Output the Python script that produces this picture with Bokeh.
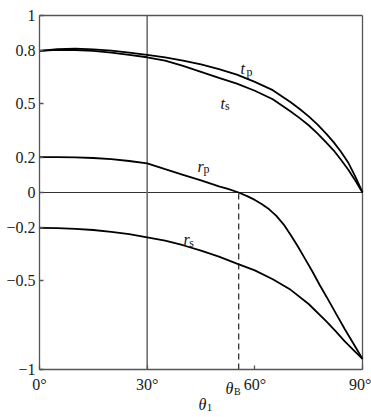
from bokeh.plotting import figure
from bokeh.models import Range1d, FixedTicker, Label
from bokeh.embed import file_html
from bokeh.resources import INLINE

# angle of incidence (degrees) and amplitude coefficients
tp_angles = [0, 5, 10, 15, 20, 25, 30, 35, 40, 45, 50, 55, 60, 65, 70, 72.5, 75, 77.5,
             80, 82, 84, 86, 88, 90]
t_p = [0.800, 0.810, 0.813, 0.809, 0.801, 0.790, 0.778, 0.763, 0.745, 0.724, 0.697, 0.666,
       0.625, 0.578, 0.510, 0.472, 0.430, 0.383, 0.330, 0.283, 0.230, 0.170, 0.090, 0.0]
ts_angles = [0, 5, 10, 15, 20, 25, 30, 35, 40, 45, 50, 55, 60, 65, 70, 72.5, 75, 77.5,
             80, 82, 84, 86, 88, 90]
t_s = [0.800, 0.806, 0.805, 0.800, 0.790, 0.778, 0.764, 0.745, 0.715, 0.682, 0.648, 0.615,
       0.575, 0.527, 0.458, 0.420, 0.380, 0.333, 0.280, 0.237, 0.185, 0.130, 0.068, 0.0]

rp_angles = [0, 5, 10, 15, 20, 25, 30, 35, 40, 45, 50, 52.5, 55.5, 58, 60, 62, 64, 66, 68,
             70, 72, 74, 76, 78, 80, 82.5, 85, 87.5, 90]
r_p = [0.200, 0.200, 0.198, 0.195, 0.188, 0.178, 0.165, 0.132, 0.100, 0.068, 0.035, 0.020,
       0.0, -0.022, -0.042, -0.066, -0.095, -0.132, -0.180, -0.240, -0.305, -0.375, -0.445,
       -0.520, -0.590, -0.680, -0.770, -0.855, -0.940]

rs_angles = [0, 5, 10, 15, 20, 25, 30, 35, 40, 45, 50, 55, 60, 65, 70, 75, 80, 82.5, 85,
             87.5, 90]
r_s = [-0.200, -0.201, -0.205, -0.212, -0.222, -0.235, -0.253, -0.272, -0.298, -0.328,
       -0.362, -0.402, -0.440, -0.490, -0.550, -0.630, -0.730, -0.783, -0.840, -0.890,
       -0.940]

theta_B = 55.5
divider_angle = 30

y_ticks = [-1, -0.5, -0.2, 0, 0.2, 0.5, 0.8, 1]
y_tick_labels = ["\u22121", "\u22120.5", "\u22120.2", "0", "0.2", "0.5", "0.8", "1"]
x_ticks = [0, 30, 60, 90]
x_tick_labels = ["0\u00b0", "30\u00b0", "60\u00b0", "90\u00b0"]

FONT = "Liberation Serif"
FRAME = "#555555"

# the frame covers the whole canvas; both axes are pinned at the box edges
p = figure(width=371, height=417, x_range=Range1d(-10.866, 92.508),
           y_range=Range1d(-1.2712, 1.0847),
           output_backend="svg", toolbar_location=None,
           min_border_left=0, min_border_right=0, min_border_top=0, min_border_bottom=0)
p.grid.visible = False
p.outline_line_color = None

for ax in (p.xaxis[0], p.yaxis[0]):
    ax.axis_line_color = FRAME
    ax.axis_line_width = 1.3
    ax.major_tick_line_color = FRAME
    ax.major_tick_line_width = 1.3
    ax.major_tick_in = 4
    ax.major_tick_out = 0
    ax.minor_tick_in = 0
    ax.minor_tick_out = 0
    ax.major_label_text_font = FONT
    ax.major_label_text_font_size = "16px"
    ax.major_label_text_color = "#1a1a1a"

p.xaxis.ticker = FixedTicker(ticks=x_ticks)
p.xaxis.major_label_overrides = dict(zip(x_ticks, x_tick_labels))
p.xaxis.major_label_standoff = 7
p.xaxis.fixed_location = -1
p.xaxis.bounds = (0, 90)
p.yaxis.ticker = FixedTicker(ticks=y_ticks)
p.yaxis.major_label_overrides = dict(zip(y_ticks, y_tick_labels))
p.yaxis.major_label_standoff = 4
p.yaxis.fixed_location = 0
p.yaxis.bounds = (-1, 1)

# top and right border of the box
p.segment(x0=[0, 90], y0=[1, -1], x1=[90, 90], y1=[1, 1], line_color=FRAME, line_width=1.3)
p.segment(x0=[0], y0=[0], x1=[90], y1=[0], line_color="#333333", line_width=1.2)
p.segment(x0=[divider_angle], y0=[-1], x1=[divider_angle], y1=[1], line_color="#666666",
          line_width=1.5)
p.segment(x0=[theta_B], y0=[-1], x1=[theta_B], y1=[0], line_color="#333333",
          line_width=1.3, line_dash="6 4")

for xs, ys in ((tp_angles, t_p), (ts_angles, t_s), (rp_angles, r_p), (rs_angles, r_s)):
    p.line(xs, ys, line_color="black", line_width=1.8)


def lab(x, y, text, size="16px", style="italic", align="left"):
    p.add_layout(Label(x=x, y=y, text=text, text_font=FONT, text_font_size=size,
                       text_font_style=style, text_align=align,
                       text_baseline="alphabetic", text_color="#111111"))


lab(56.0, 0.700, "t")
lab(57.7, 0.682, "p", size="12px", style="normal")
lab(50.4, 0.503, "t")
lab(51.7, 0.490, "s", size="12px", style="normal")
lab(44.0, 0.147, "r")
lab(45.7, 0.130, "p", size="12px", style="normal")
lab(40.1, -0.266, "r")
lab(41.7, -0.288, "s", size="12px", style="normal")
lab(51.8, -1.107, "\u03b8")
lab(54.2, -1.124, "B", size="10px", style="normal")
lab(44.3, -1.198, "\u03b8")
lab(46.6, -1.215, "1", size="11px", style="normal")

open("out.html", "w").write(file_html(p, INLINE))
